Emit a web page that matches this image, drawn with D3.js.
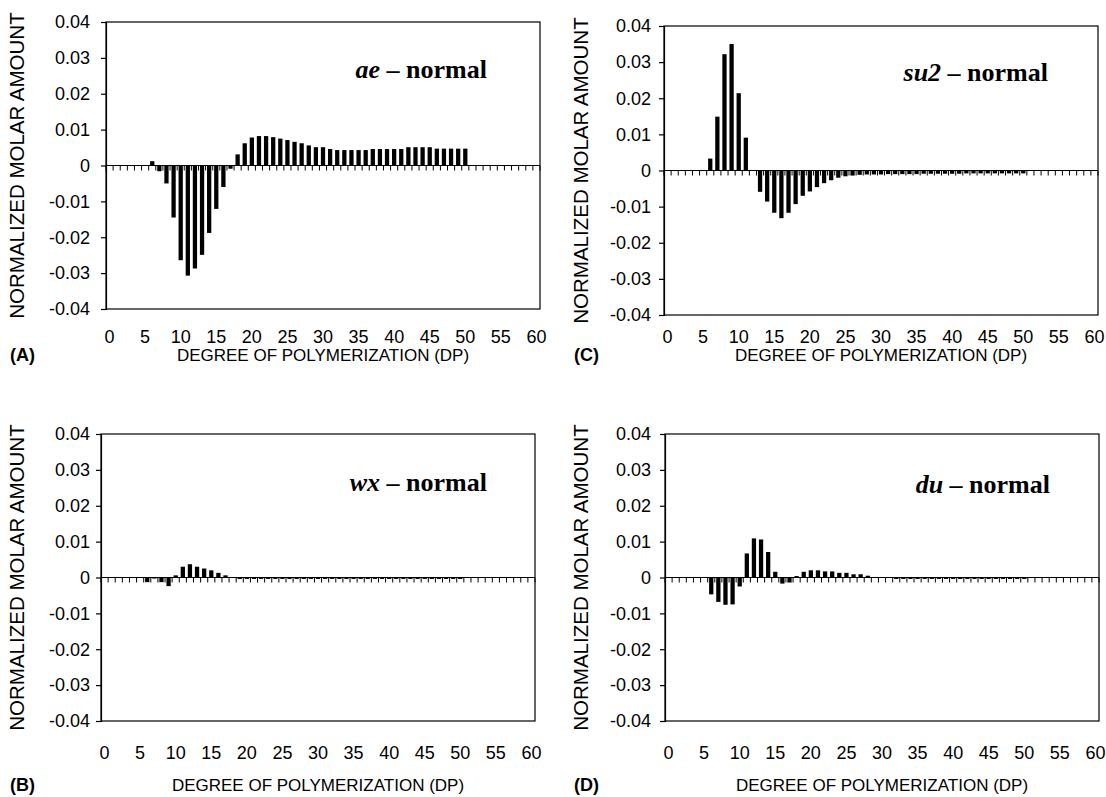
<!DOCTYPE html>
<html>
<head>
<meta charset="utf-8">
<script src="https://cdn.jsdelivr.net/npm/d3@7"></script>
<style>
    body { margin: 0; background: #fff; }
    svg text { font-family: Arial, "Liberation Sans", sans-serif; fill: #000; }
</style>
</head>
<body>
<div id="chart"></div>
<script>

// categories on the x axis (DP 0..60) and the labelled ones
const dpCategories = d3.range(0, 61);
const xTickLabels = [0, 5, 10, 15, 20, 25, 30, 35, 40, 45, 50, 55, 60];
const yTickValues = [-0.04, -0.03, -0.02, -0.01, 0, 0.01, 0.02, 0.03, 0.04];

// values, DP 1..50
const dpValues = d3.range(1, 51);

const aeValues = [
    0, 0, 0, 0, 0, 0.0012, -0.0016, -0.005, -0.0145, -0.0264,
    -0.0307, -0.0287, -0.0249, -0.0188, -0.0121, -0.006, -0.0009, 0.0031, 0.0062, 0.0078,
    0.0082, 0.0082, 0.0079, 0.0075, 0.0071, 0.0066, 0.0062, 0.0056, 0.0051, 0.0051,
    0.0046, 0.0043, 0.0043, 0.0043, 0.0043, 0.0043, 0.0046, 0.0046, 0.0046, 0.0046,
    0.0046, 0.0051, 0.0051, 0.0051, 0.0051, 0.0047, 0.0047, 0.0047, 0.0047, 0.0047
];

const su2Values = [
    0, 0, 0, 0, 0, 0.0033, 0.0149, 0.0322, 0.035, 0.0214,
    0.0091, 0, -0.0059, -0.0086, -0.0117, -0.0132, -0.0117, -0.0093, -0.007, -0.0058,
    -0.0046, -0.0035, -0.0027, -0.002, -0.0016, -0.0014, -0.0012, -0.0011, -0.0011, -0.0011,
    -0.001, -0.001, -0.001, -0.001, -0.001, -0.0009, -0.0009, -0.0009, -0.0009, -0.0009,
    -0.0009, -0.0008, -0.0008, -0.0008, -0.0008, -0.0008, -0.0008, -0.0008, -0.0008, -0.0008
];

const wxValues = [
    0, 0, 0, 0, 0, -0.0013, -0.0003, -0.0013, -0.0024, 0.0006,
    0.003, 0.0037, 0.003, 0.0025, 0.002, 0.0013, 0.0006, 0, -0.0004, -0.0004,
    -0.0004, -0.0004, -0.0004, -0.0004, -0.0004, -0.0004, -0.0004, -0.0004, -0.0004, -0.0004,
    -0.0004, -0.0004, -0.0004, -0.0004, -0.0004, -0.0004, -0.0004, -0.0004, -0.0004, -0.0004,
    -0.0004, -0.0004, -0.0004, -0.0004, -0.0004, -0.0004, -0.0004, -0.0004, -0.0004, -0.0004
];

const duValues = [
    0, 0, 0, 0, 0, -0.0047, -0.0068, -0.0076, -0.0075, -0.0025,
    0.0067, 0.0109, 0.0106, 0.0071, 0.0016, -0.0017, -0.0014, 0.0004, 0.0016, 0.002,
    0.002, 0.0017, 0.0017, 0.0013, 0.0013, 0.0009, 0.0009, 0.0005, 0, 0,
    0, -0.0004, -0.0004, -0.0004, -0.0004, -0.0004, -0.0004, -0.0004, -0.0004, -0.0004,
    -0.0004, -0.0004, -0.0004, -0.0004, -0.0004, -0.0004, -0.0004, -0.0004, -0.0004, -0.0004
];

const svg = d3.select("#chart").append("svg")
    .attr("width", 1106)
    .attr("height", 797);

// panel layout (positions only)
const panels = [
    { letter: "(A)", mutant: "ae",  values: aeValues,  left: 106, top: 22,  bottom: 309, labelRight: 90,  tickY: 343, titleY: 361, noteX: 487,  noteY: 78,  yTitleX: 24 },
    { letter: "(C)", mutant: "su2", values: su2Values, left: 664, top: 26,  bottom: 315, labelRight: 651, tickY: 343, titleY: 361, noteX: 1048, noteY: 81,  yTitleX: 588 },
    { letter: "(B)", mutant: "wx",  values: wxValues,  left: 101, top: 434, bottom: 721, labelRight: 90,  tickY: 759, titleY: 791, noteX: 487,  noteY: 491, yTitleX: 24 },
    { letter: "(D)", mutant: "du",  values: duValues,  left: 665, top: 434, bottom: 721, labelRight: 651, tickY: 759, titleY: 791, noteX: 1050, noteY: 493, yTitleX: 588 }
];

const plotWidth = 434;

panels.forEach(p => drawPanel(p));

function drawPanel(p) {
    let g = svg.append("g");

    let x = d3.scaleBand()
        .domain(dpCategories)
        .range([p.left, p.left + plotWidth])
        .paddingInner(0.4)
        .paddingOuter(0.2);

    let y = d3.scaleLinear()
        .domain([-0.04, 0.04])
        .range([p.bottom, p.top]);

    // plot area frame
    g.append("rect")
        .attr("x", p.left)
        .attr("y", p.top)
        .attr("width", plotWidth)
        .attr("height", p.bottom - p.top)
        .attr("fill", "none")
        .attr("stroke", "#000")
        .attr("stroke-width", 1.2);

    // y axis
    let yAxis = d3.axisLeft(y)
        .tickValues(yTickValues)
        .tickSize(5)
        .tickPadding(p.left - 5 - p.labelRight)
        .tickFormat(d => d === 0 ? "0" : d.toFixed(2));

    g.append("g")
        .attr("transform", `translate(${p.left}, 0)`)
        .call(yAxis)
        .call(s => s.select(".domain").attr("stroke-width", 1.2))
        .call(s => s.selectAll(".tick line").attr("stroke-width", 1.2))
        .call(s => s.selectAll("text").style("font-size", "18px").attr("font-family", null));

    // bars
    let data = dpValues.map((d, i) => ({ dp: d, value: p.values[i] })).filter(d => d.value !== 0);
    g.selectAll(".bar")
        .data(data)
        .enter().append("rect")
        .attr("class", "bar")
        .attr("x", d => x(d.dp))
        .attr("width", x.bandwidth())
        .attr("y", d => y(Math.max(0, d.value)))
        .attr("height", d => Math.abs(y(d.value) - y(0)))
        .attr("fill", "#000");

    // category axis along zero, ticks between categories
    let step = x.step();
    let zeroY = y(0);
    g.append("line")
        .attr("x1", p.left).attr("x2", p.left + plotWidth)
        .attr("y1", zeroY).attr("y2", zeroY)
        .attr("stroke", "#000").attr("stroke-width", 1.2);

    g.selectAll(".cat-tick")
        .data(d3.range(0, dpCategories.length + 1))
        .enter().append("line")
        .attr("class", "cat-tick")
        .attr("x1", i => p.left + i * step)
        .attr("x2", i => p.left + i * step)
        .attr("y1", zeroY)
        .attr("y2", zeroY + 5)
        .attr("stroke", "#000")
        .attr("stroke-width", 1);

    // category labels at the bottom
    g.selectAll(".cat-label")
        .data(xTickLabels)
        .enter().append("text")
        .attr("class", "cat-label")
        .attr("x", d => x(d) + x.bandwidth() / 2)
        .attr("y", p.tickY)
        .attr("text-anchor", "middle")
        .style("font-size", "18px")
        .text(d => d);

    // axis titles
    g.append("text")
        .attr("transform", `translate(${p.yTitleX}, ${(p.top + p.bottom) / 2}) rotate(-90)`)
        .attr("text-anchor", "middle")
        .style("font-size", "20.5px")
        .text("NORMALIZED MOLAR AMOUNT");

    g.append("text")
        .attr("x", p.left + plotWidth / 2)
        .attr("y", p.titleY)
        .attr("text-anchor", "middle")
        .style("font-size", "17px")
        .text("DEGREE OF POLYMERIZATION (DP)");

    g.append("text")
        .attr("x", p.yTitleX - 14)
        .attr("y", p.titleY)
        .style("font-size", "18px")
        .style("font-weight", "bold")
        .text(p.letter);

    // panel note, e.g. "ae – normal"
    let note = g.append("text")
        .attr("x", p.noteX)
        .attr("y", p.noteY)
        .attr("text-anchor", "end")
        .style("font-family", "'Liberation Serif', 'Times New Roman', serif")
        .style("font-size", "26px")
        .style("font-weight", "bold");
    note.append("tspan").style("font-style", "italic").text(p.mutant);
    note.append("tspan").text(" \u2013 normal");
}
</script>
</body>
</html>
